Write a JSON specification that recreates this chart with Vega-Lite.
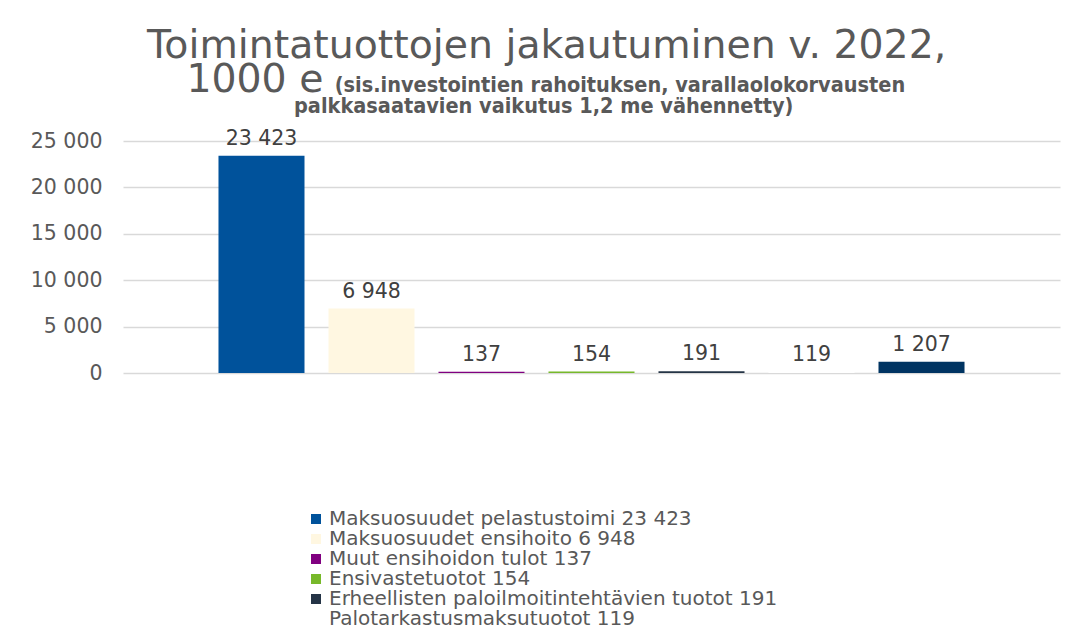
{
  "$schema": "https://vega.github.io/schema/vega-lite/v6.json",
  "width": 937,
  "height": 232,
  "autosize": {"type": "none"},
  "padding": {"left": 123, "top": 141, "right": 18, "bottom": 256},
  "background": "white",
  "config": {
    "locale": {"number": {"decimal": ",", "thousands": " ", "grouping": [3], "currency": ["", " €"]}},
    "view": {"stroke": null},
    "font": "DejaVu Sans"
  },
  "title": {
    "text": ["Toimintatuottojen jakautuminen v. 2022,", "\u200b\u20031000 e"],
    "subtitle": ["\u200b\u2003\u2003\u2003\u2003\u2003\u2003\u2003\u2003\u2003\u2002\u2009(sis.investointien rahoituksen, varallaolokorvausten", "\u200b\u2003\u2003\u2003\u2003\u2003\u2003\u2003\u2002\u200apalkkasaatavien vaikutus 1,2 me vähennetty)"],
    "anchor": "start",
    "frame": "group",
    "dx": 24,
    "offset": 10,
    "font": "DejaVu Sans",
    "fontSize": 39.4,
    "fontWeight": "normal",
    "color": "#595959",
    "lineHeight": 34,
    "subtitleFont": "DejaVu Sans Condensed, Liberation Sans Narrow, Liberation Sans",
    "subtitleFontSize": 21.5,
    "subtitleFontWeight": "bold",
    "subtitleColor": "#595959",
    "subtitleLineHeight": 21,
    "subtitlePadding": -25
  },
  "data": {
    "values": [
      {"label": "Maksuosuudet pelastustoimi 23 423", "value": 23423},
      {"label": "Maksuosuudet ensihoito 6 948", "value": 6948},
      {"label": "Muut ensihoidon tulot 137", "value": 137},
      {"label": "Ensivastetuotot 154", "value": 154},
      {"label": "Erheellisten paloilmoitintehtävien tuotot 191", "value": 191},
      {"label": "Palotarkastusmaksutuotot 119", "value": 119},
      {"label": "Muut tuotot 1 207", "value": 1207}
    ]
  },
  "encoding": {
    "x": {
      "field": "label",
      "type": "nominal",
      "sort": null,
      "axis": null,
      "scale": {"paddingInner": 0.218, "paddingOuter": 0.868}
    },
    "y": {
      "field": "value",
      "type": "quantitative",
      "scale": {"domain": [0, 25000], "nice": false},
      "axis": {
        "title": null,
        "values": [0, 5000, 10000, 15000, 20000, 25000],
        "format": ",d",
        "domain": false,
        "ticks": false,
        "labelPadding": 21,
        "labelFont": "DejaVu Sans",
        "labelFontSize": 20.5,
        "labelColor": "#595959",
        "gridColor": "#D9D9D9",
        "gridWidth": 1.5
      }
    }
  },
  "layer": [
    {
      "mark": {"type": "bar"},
      "encoding": {
        "color": {
          "field": "label",
          "type": "nominal",
          "sort": null,
          "scale": {
            "domain": ["Maksuosuudet pelastustoimi 23 423", "Maksuosuudet ensihoito 6 948", "Muut ensihoidon tulot 137", "Ensivastetuotot 154", "Erheellisten paloilmoitintehtävien tuotot 191", "Palotarkastusmaksutuotot 119", "Muut tuotot 1 207"],
            "range": ["#00529B", "#FFF7E1", "#800080", "#77B82A", "#253446", "#FFFFFF", "#003462"]
          },
          "legend": {
            "title": null,
            "orient": "none",
            "legendX": 183,
            "legendY": 368,
            "direction": "vertical",
            "symbolType": "square",
            "symbolSize": 100,
            "symbolStrokeWidth": 0,
            "labelFont": "DejaVu Sans",
            "labelFontSize": 20,
            "labelColor": "#595959",
            "labelLimit": 0,
            "labelOffset": 3,
            "rowPadding": 0
          }
        }
      }
    },
    {
      "mark": {"type": "text", "baseline": "alphabetic", "dy": -11, "font": "DejaVu Sans", "fontSize": 20.5, "color": "#404040"},
      "encoding": {
        "text": {"field": "value", "type": "quantitative", "format": ",d"}
      }
    }
  ]
}
